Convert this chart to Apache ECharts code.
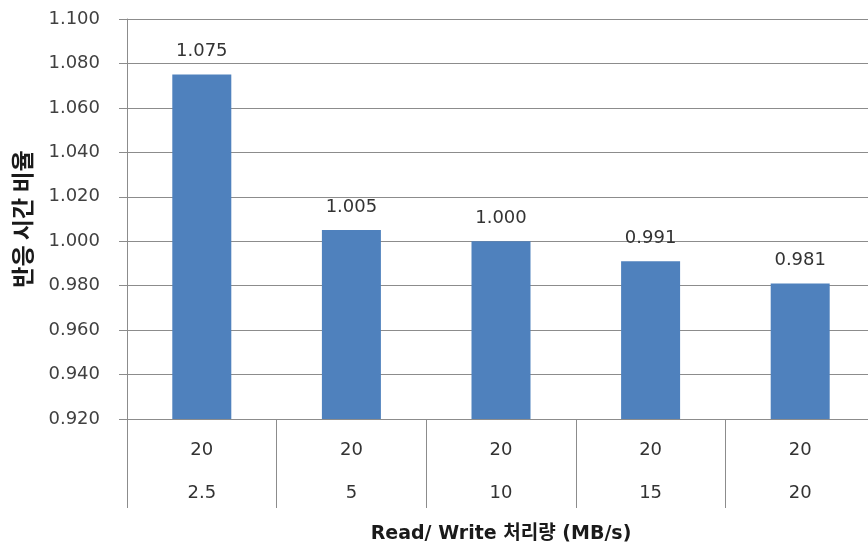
<!DOCTYPE html>
<html>
<head>
<meta charset="utf-8">
<script src="https://cdn.jsdelivr.net/npm/echarts@6/dist/echarts.min.js"></script>
<style>
  html, body { margin: 0; padding: 0; background: #fff; }
  #chart { width: 868px; height: 548px; }
</style>
</head>
<body>
<div id="chart"></div>
<script>
// Read/write throughput pairs (MB/s) for each test case
const readRates = ['20', '20', '20', '20', '20'];
const writeRates = ['2.5', '5', '10', '15', '20'];
// Response time ratio for each case
const ratioValues = [1.075, 1.005, 1.000, 0.991, 0.981];
// Y axis range
const yMin = 0.92;
const yMax = 1.10;
const yStep = 0.02;

const categories = readRates.map((r, i) => r + '\n' + writeRates[i]);

const textFont = '"DejaVu Sans", "Noto Sans", sans-serif';
const titleFont = '"DejaVu Sans", "Noto Sans CJK KR", sans-serif';
const lineColor = '#8c8c8c';

const chart = echarts.init(document.getElementById('chart'));
chart.setOption({
  animation: false,
  grid: {
    left: 127, top: 19, width: 748, height: 400,
    containLabel: false, outerBoundsMode: 'none'
  },
  xAxis: {
    type: 'category',
    data: categories,
    name: 'Read/ Write 처리량 (MB/s)',
    nameLocation: 'middle',
    nameGap: 106,
    nameTextStyle: { fontFamily: titleFont, fontWeight: 'bold', fontSize: 19, color: '#1a1a1a' },
    axisLine: { lineStyle: { color: lineColor, width: 1 } },
    axisTick: { show: true, length: 89, lineStyle: { color: lineColor, width: 1 } },
    axisLabel: {
      fontFamily: textFont, fontSize: 18, color: '#333', lineHeight: 43, margin: 10
    },
    splitLine: { show: false }
  },
  yAxis: {
    type: 'value',
    min: yMin,
    max: yMax,
    interval: yStep,
    name: '반응 시간 비율',
    nameLocation: 'middle',
    nameGap: 93,
    nameRotate: 90,
    nameTextStyle: {
      fontFamily: '"Noto Sans CJK KR", sans-serif', fontWeight: 'bold',
      fontSize: 23, color: '#1a1a1a'
    },
    axisLine: { show: true, lineStyle: { color: lineColor, width: 1 } },
    axisTick: { show: true, length: 8, lineStyle: { color: lineColor } },
    axisLabel: {
      fontFamily: textFont, fontSize: 18, color: '#404040', margin: 27,
      formatter: v => v.toFixed(3)
    },
    splitLine: { show: true, lineStyle: { color: lineColor, width: 1 } }
  },
  series: [{
    type: 'bar',
    data: ratioValues,
    barWidth: 59,
    itemStyle: { color: '#4f81bd' },
    label: {
      show: true,
      position: 'top',
      distance: 14,
      fontFamily: textFont,
      fontSize: 18,
      color: '#333',
      formatter: p => p.value.toFixed(3)
    }
  }]
});
</script>
</body>
</html>
